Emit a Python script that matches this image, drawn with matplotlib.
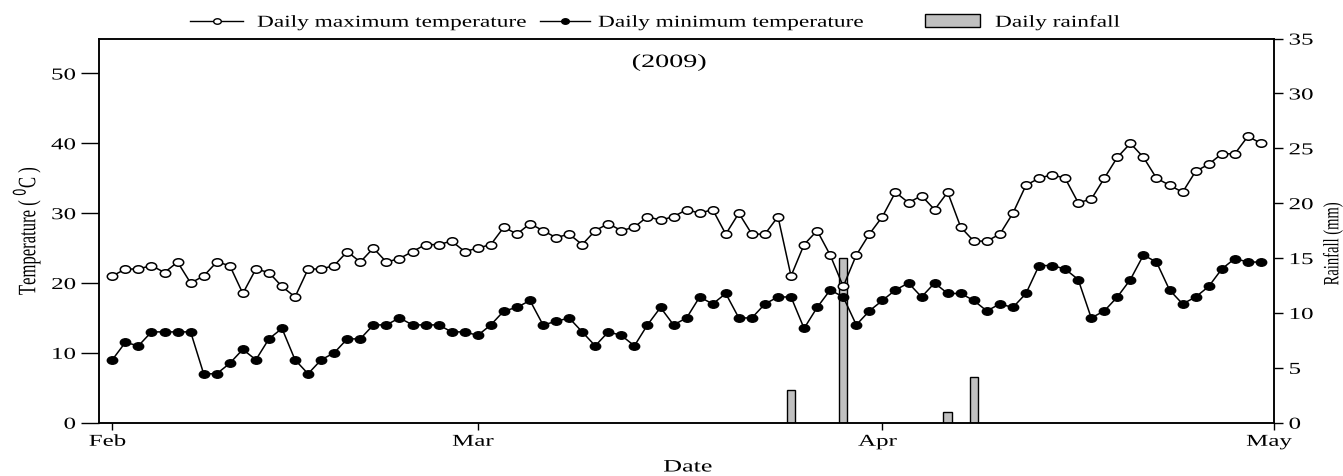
import pandas as pd
import matplotlib
matplotlib.use('Agg')
import matplotlib.pyplot as plt
from matplotlib.lines import Line2D
from matplotlib.patches import Rectangle
from matplotlib.path import Path
from matplotlib.patheffects import AbstractPathEffect
from matplotlib.transforms import Affine2D

plt.rcParams['font.family'] = ['Liberation Serif', 'DejaVu Serif']

dates = pd.date_range('2009-02-01', '2009-04-30', freq='D')

tmax = [21, 22, 22, 22.5, 21.5, 23, 20, 21, 23, 22.5, 18.5, 22, 21.5, 19.5, 18, 22,
        22, 22.5, 24.5, 23, 25, 23, 23.5, 24.5, 25.5, 25.5, 26, 24.5,
        25, 25.5, 28, 27, 28.5, 27.5, 26.5, 27, 25.5, 27.5, 28.5, 27.5, 28, 29.5,
        29, 29.5, 30.5, 30, 30.5, 27, 30, 27, 27, 29.5, 21, 25.5, 27.5, 24, 19.5,
        24, 27,
        29.5, 33, 31.5, 32.5, 30.5, 33, 28, 26, 26, 27, 30, 34, 35, 35.5, 35,
        31.5, 32, 35, 38, 40, 38, 35, 34, 33, 36, 37, 38.5, 38.5, 41, 40]

tmin = [9, 11.5, 11, 13, 13, 13, 13, 7, 7, 8.5, 10.5, 9, 12, 13.5, 9, 7, 9, 10,
        12, 12, 14, 14, 15, 14, 14, 14, 13, 13,
        12.5, 14, 16, 16.5, 17.5, 14, 14.5, 15, 13, 11, 13, 12.5, 11, 14, 16.5,
        14, 15, 18, 17, 18.5, 15, 15, 17, 18, 18, 13.5, 16.5, 19, 18, 14, 16,
        17.5, 19, 20, 18, 20, 18.5, 18.5, 17.5, 16, 17, 16.5, 18.5, 22.5, 22.5,
        22, 20.5, 15, 16, 18, 20.5, 24, 23, 19, 17, 18, 19.5, 22, 23.5, 23, 23]

rain_dates = pd.to_datetime(['2009-03-25', '2009-03-29', '2009-04-06', '2009-04-08'])
rain = [3.0, 15.0, 1.0, 4.2]

month_ticks = pd.to_datetime(['2009-02-01', '2009-03-01', '2009-04-01', '2009-05-01'])
month_labels = ['Feb', 'Mar', 'Apr', 'May']


# the original picture is stretched sideways; widen text the same way
class StretchX(AbstractPathEffect):
    def __init__(self, sx=1.5, anchor=0.5, dx=0):
        super().__init__()
        self.sx, self.anchor, self.dx = sx, anchor, dx

    def draw_path(self, renderer, gc, tpath, affine, rgbFace=None):
        v = affine.transform(tpath.vertices)
        if len(v) == 0:
            return
        x0, x1 = v[:, 0].min(), v[:, 0].max()
        xc = x0 + self.anchor * (x1 - x0)
        t = affine + Affine2D().translate(-xc, 0).scale(self.sx, 1).translate(xc + self.dx, 0)
        renderer.draw_path(gc, tpath, t, rgbFace)


circ = Path.unit_circle()
ellipse = Path(circ.vertices * [1, 0.72], circ.codes)

fig = plt.figure(figsize=(13.43, 4.76), dpi=100)
ax1 = fig.add_axes([0.0739, 0.112, 0.8747, 0.807])
ax2 = ax1.twinx()

ax2.bar(rain_dates, rain, width=0.64, color='#c0c0c0', edgecolor='black', linewidth=1.0)
ax2.set_ylim(0, 35)
ax2.set_yticks(range(0, 36, 5))

ax1.plot(dates, tmax, color='black', lw=1.1, marker=ellipse, ms=7.5, mfc='white', mec='black', mew=1.1)
ax1.plot(dates, tmin, color='black', lw=1.1, marker=ellipse, ms=7.5, mfc='black', mec='black')
ax1.set_zorder(ax2.get_zorder() + 1)
ax1.patch.set_visible(False)

ax1.set_ylim(0, 55)
ax1.set_yticks(range(0, 51, 10))
ax1.set_xlim(pd.Timestamp('2009-01-31'), pd.Timestamp('2009-05-01'))
ax1.set_xticks(month_ticks)
ax1.set_xticklabels(month_labels)

ax1.tick_params(axis='y', direction='out', length=13, width=1, labelsize=12, pad=4)
ax1.tick_params(axis='x', direction='out', length=5, width=1, labelsize=12, pad=3)
ax2.tick_params(axis='y', direction='out', length=6.5, width=1, labelsize=12, pad=4)
for ax in (ax1, ax2):
    for s in ax.spines.values():
        s.set_linewidth(1.1)

for lbl in ax1.get_yticklabels():
    lbl.set_path_effects([StretchX(1.5, anchor=1.0)])
for lbl in ax2.get_yticklabels():
    lbl.set_path_effects([StretchX(1.5, anchor=0.0)])
for lbl in ax1.get_xticklabels():
    lbl.set_path_effects([StretchX(1.5, anchor=0.5, dx=-5)])

yl = ax1.set_ylabel('Temperature ( $^0$C )', fontsize=12, ha='center', va='center')
ax1.yaxis.set_label_coords(-0.062, 0.5)
yl.set_path_effects([StretchX(1.5)])

yr = ax2.set_ylabel('Rainfall (mm)', fontsize=10.5, ha='center', va='center', rotation=90)
ax2.yaxis.set_label_coords(1.050, 0.465)
yr.set_path_effects([StretchX(1.5)])

xl = ax1.set_xlabel('Date', fontsize=12.5, va='baseline')
ax1.xaxis.set_label_coords(0.501, -0.127)
xl.set_path_effects([StretchX(1.5)])

ax1.text(0.485, 0.926, '(2009)', transform=ax1.transAxes, ha='center', va='baseline',
         fontsize=13.5, path_effects=[StretchX(1.5)])

# legend row above the plot, laid out in figure pixels
W, H = 1343.0, 476.0
ym = 1 - 21 / H
yb = 1 - 26.7 / H
for x0, x1, fc, tx, txt in [(190, 243, 'white', 257, 'Daily maximum temperature'),
                            (540, 590, 'black', 598, 'Daily minimum temperature')]:
    fig.add_artist(Line2D([x0 / W, x1 / W], [ym, ym], color='black', lw=1.0))
    fig.add_artist(Line2D([(x0 + x1) / 2 / W], [ym], marker=ellipse, ms=5.5, mfc=fc,
                          mec='black', mew=1.0, ls='none'))
    fig.text(tx / W, yb, txt, fontsize=12, va='baseline', ha='left',
             path_effects=[StretchX(1.4, anchor=0.0)])
fig.add_artist(Rectangle((925 / W, 1 - 26.5 / H), 55 / W, 12 / H, transform=fig.transFigure,
                         facecolor='#c0c0c0', edgecolor='black', lw=1.0))
fig.text(995 / W, yb, 'Daily rainfall', fontsize=12, va='baseline', ha='left',
         path_effects=[StretchX(1.4, anchor=0.0)])

fig.savefig('out.png', dpi=100)
